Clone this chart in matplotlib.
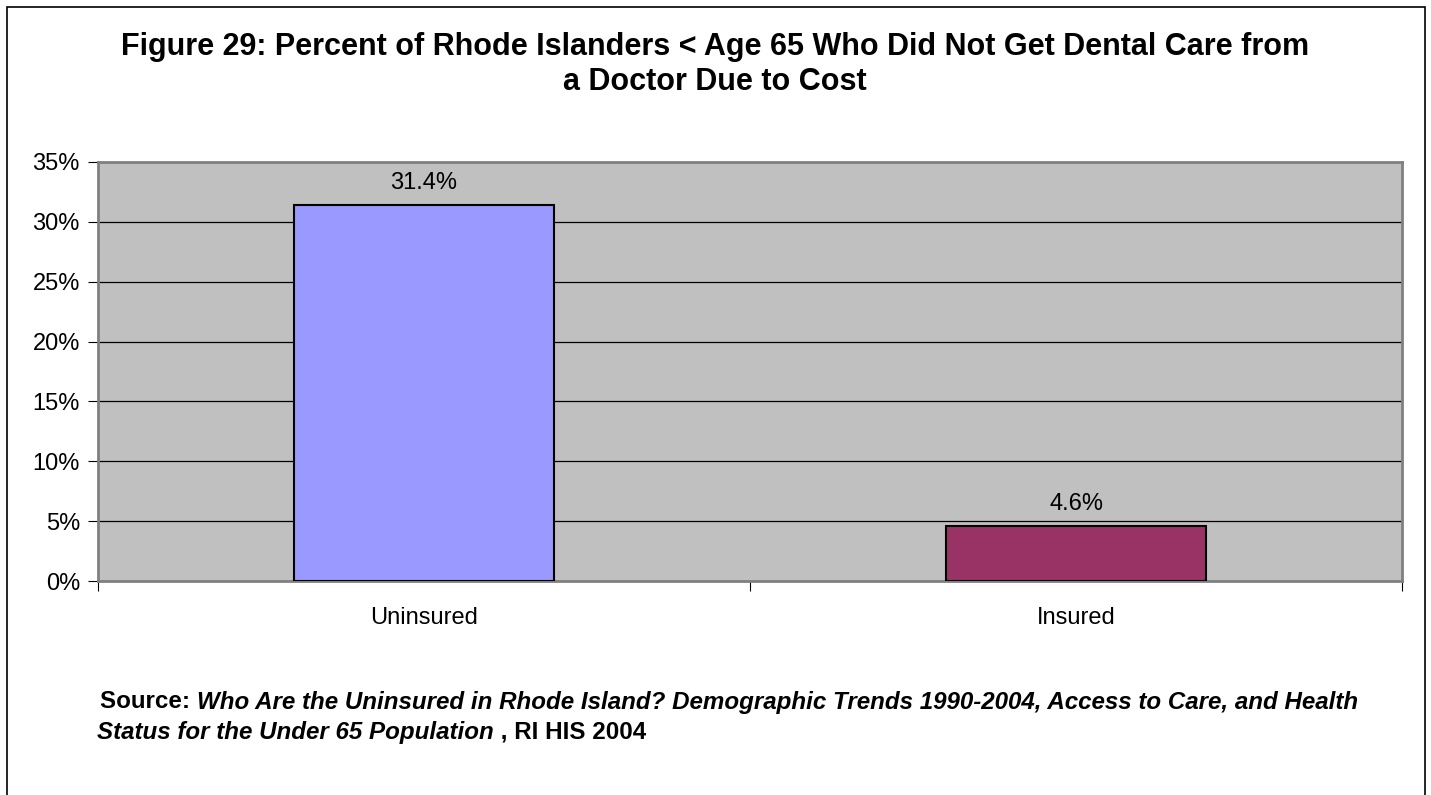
import matplotlib
matplotlib.use("Agg")
import matplotlib.pyplot as plt
from matplotlib.patches import Rectangle

plt.rcParams['font.family'] = ['Liberation Sans', 'DejaVu Sans']

categories = ["Uninsured", "Insured"]
values = [31.4, 4.6]
bar_colors = ["#9999FF", "#993366"]
yticks = [0, 5, 10, 15, 20, 25, 30, 35]

title_lines = ["Figure 29: Percent of Rhode Islanders < Age 65 Who Did Not Get Dental Care from",
               "a Doctor Due to Cost"]

fig = plt.figure(figsize=(14.31, 7.95), dpi=100)
W, H = 1431, 795

# chart outline
fig.patches.append(Rectangle((7 / W, -0.01), (1425 - 7) / W, (795 - 7) / H + 0.01,
                             transform=fig.transFigure, fill=False,
                             edgecolor="black", linewidth=1.2))

ax = fig.add_axes([98 / W, 1 - 581 / H, (1402 - 98) / W, (581 - 162) / H])
ax.set_facecolor("#C0C0C0")
x = range(len(categories))
ax.bar(x, values, width=0.4, color=bar_colors, edgecolor="black",
       linewidth=1.5, zorder=3)
for xi, v in zip(x, values):
    ax.text(xi, v + 0.95, f"{v:.1f}%", ha="center", va="bottom", fontsize=17)

ax.set_xlim(-0.5, 1.5)
ax.set_ylim(0, 35)
ax.set_yticks(yticks)
ax.set_yticklabels([f"{t}%" for t in yticks], fontsize=17)
ax.yaxis.grid(True, color="black", linewidth=0.9, zorder=1)
ax.set_axisbelow(True)

ax.set_xticks([-0.5, 0.5, 1.5], minor=False)
ax.set_xticklabels([])
ax.set_xticks([0, 1], minor=True)
ax.set_xticklabels(categories, minor=True, fontsize=17)
ax.tick_params(axis="x", which="minor", length=0, pad=19)
ax.tick_params(axis="x", which="major", length=7, direction="out", color="black")
ax.tick_params(axis="y", length=7, direction="out", color="black", pad=6)

for side in ["left", "bottom", "top", "right"]:
    ax.spines[side].set_color("#808080")
    ax.spines[side].set_linewidth(2)

fig.text(715 / W, 1 - 47 / H, title_lines[0], ha="center", va="center",
         fontsize=22, fontweight="bold")
fig.text(715 / W, 1 - 82 / H, title_lines[1], ha="center", va="center",
         fontsize=22, fontweight="bold")

# source note, mixed styles on two lines
fig.canvas.draw()
renderer = fig.canvas.get_renderer()

def put_parts(x0, y0, parts):
    xp = x0
    for txt, style in parts:
        t = fig.text(xp / W, 1 - y0 / H, txt, ha="left", va="center",
                     fontsize=17.4, fontweight="bold", fontstyle=style)
        bb = t.get_window_extent(renderer)
        xp += bb.width

put_parts(100, 702, [("Source: ", "normal"),
                     ("Who Are the Uninsured in Rhode Island? Demographic Trends 1990-2004, "
                      "Access to Care, and Health", "italic")])
put_parts(97, 732, [("Status for the Under 65 Population", "italic"),
                    (" , RI HIS 2004", "normal")])

fig.savefig("out.png", dpi=100)
